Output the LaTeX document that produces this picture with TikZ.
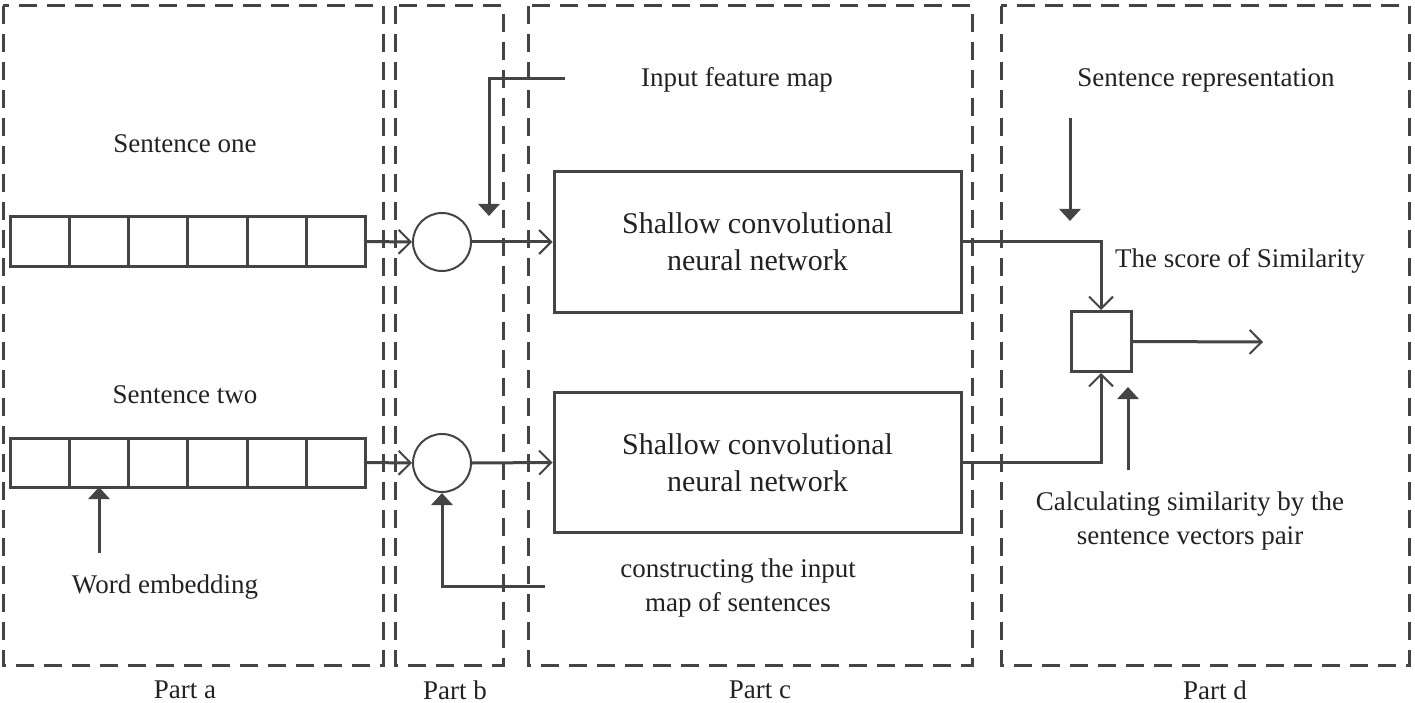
\documentclass[tikz,border=0pt]{standalone}
\usepackage{fontspec}
\setmainfont{Liberation Serif}
\usetikzlibrary{arrows.meta}
\definecolor{dk}{HTML}{444444}
\definecolor{tx}{HTML}{222222}
\tikzset{
  ln/.style={draw=dk, line width=3pt},
  dbox/.style={draw=dk, line width=3pt, dash pattern=on 18pt off 10pt},
  cell/.style={draw=dk, line width=3pt, minimum width=59.33pt, minimum height=49pt, inner sep=0pt, outer sep=0pt},
  cnn/.style={draw=dk, line width=3pt, minimum width=407pt, minimum height=140pt, align=center, text=tx, font=\fontsize{30}{37}\selectfont},
  circ/.style={draw=dk, line width=2pt, circle, minimum size=58pt, inner sep=0pt},
  lbl/.style={text=tx, font=\fontsize{27}{34}\selectfont, align=center, inner sep=0pt},
  openar/.style={-{Straight Barb[length=12pt,width=24pt,line width=2pt]}},
  fillar/.style={-{Triangle[length=12pt,width=21pt]}},
}
\begin{document}
\begin{tikzpicture}[x=1pt,y=-1pt]
\useasboundingbox (0,0) rectangle (1415,703);
% dashed part boxes
\draw[dbox] (3,6) rectangle (383,665);
\draw[dbox] (395,6) rectangle (503,665);
\draw[dbox] (528,6) rectangle (972,665);
\draw[dbox] (1001,6) rectangle (1409,665);
% part labels
\node[lbl] (pa) at (185,690) {Part a};
\node[lbl] (pb) at (455,690) {Part b};
\node[lbl] (pc) at (760,690) {Part c};
\node[lbl] (pd) at (1215,690) {Part d};
% cells
\foreach \i in {0,...,5}{
  \node[cell] (u\i) at ({39.67+59.33*\i},241.5) {};
  \node[cell] (l\i) at ({39.67+59.33*\i},462.5) {};
}
\node[lbl] (s1) at (185,144) {Sentence one};
\node[lbl] (s2) at (185,395) {Sentence two};
\node[lbl] (we) at (165,587) {Word embedding};
\coordinate (weT) at (99,553);
\draw[ln,fillar] (weT) -- (l1.south);
% circles
\node[circ] (c1) at (442,242) {};
\node[circ] (c2) at (442,463) {};
\draw[ln,openar] (u5.east) -- (c1.west);
\draw[ln,openar] (l5.east) -- (c2.west);
% CNN boxes
\node[cnn] (n1) at (757.5,242) {Shallow convolutional\\neural network};
\node[cnn] (n2) at (757.5,462.5) {Shallow convolutional\\neural network};
\draw[ln,openar] (c1.east) -- (n1.west);
\draw[ln,openar] (c2.east) -- (n2.west);
% input feature map
\node[lbl] (ifm) at (737,80) {Input feature map};
\coordinate (ifmS) at (565,79);
\coordinate (ifmT) at (489,216);
\draw[ln,fillar] (ifmS) -| (ifmT);
% constructing
\node[lbl] (cons) at (738,588) {constructing the input\\map of sentences};
\coordinate (consS) at (545,586);
\draw[ln,fillar] (consS) -| (c2.south);
% square
\node[draw=dk, line width=3pt, minimum size=60pt, inner sep=0pt] (sq) at (1101,341.5) {};
\draw[ln,openar] (n1.east) -| (sq.north);
\draw[ln,openar] (n2.east) -| (sq.south);
\coordinate (outT) at (1263,342);
\draw[ln,openar] (sq.east) -- (outT);
% sentence representation
\node[lbl] (sr) at (1206,80) {Sentence representation};
\coordinate (srS) at (1070,118);
\coordinate (srT) at (1070,221);
\draw[ln,fillar] (srS) -- (srT);
\node[lbl] (sim) at (1240,261) {The score of Similarity};
% calculating
\node[lbl] (calc) at (1190,521) {Calculating similarity by the\\sentence vectors pair};
\coordinate (calS) at (1128,470);
\coordinate (calT) at (1128,387);
\draw[ln,fillar] (calS) -- (calT);
\end{tikzpicture}
\end{document}
